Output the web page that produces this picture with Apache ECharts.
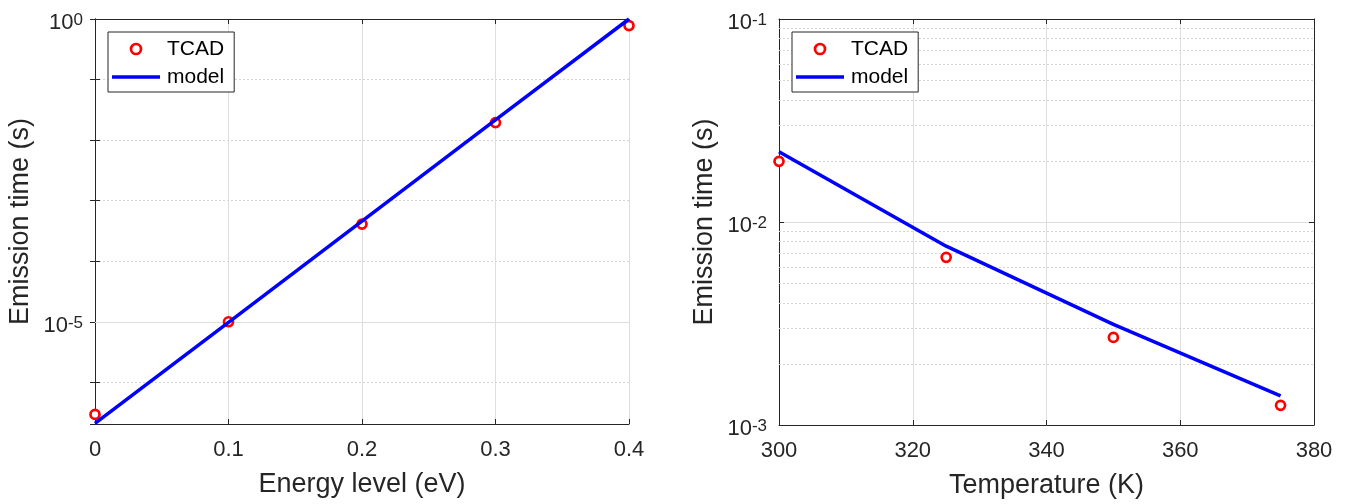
<!DOCTYPE html>
<html>
<head>
<meta charset="utf-8">
<script src="https://cdn.jsdelivr.net/npm/echarts@6/dist/echarts.min.js"></script>
<style>
  html, body { margin: 0; padding: 0; background: #fff; }
  #chart { width: 1354px; height: 504px; }
</style>
</head>
<body>
<div id="chart"></div>
<script>
// left panel: emission time vs energy level
const energyLevels = [0, 0.1, 0.2, 0.3, 0.4];
const tcadByEnergy = [2.95e-7, 1.0e-5, 4.1e-4, 1.95e-2, 0.78];
const modelByEnergy = [2.1e-7, 9.8e-6, 4.6e-4, 2.15e-2, 1.0];
const energyRange = [0, 0.4];
const energyTimeRange = [2.05e-7, 1];
const energyLabelExps = [0, -5];

// right panel: emission time vs temperature
const temperatures = [300, 325, 350, 375];
const tcadByTemp = [0.0199, 6.7e-3, 2.7e-3, 1.25e-3];
const modelByTemp = [0.0222, 7.6e-3, 3.13e-3, 1.39e-3];
const tempRange = [300, 380];
const tempTimeRange = [1e-3, 1e-1];
const tempLabelExps = [-3, -2, -1];
const tempMinorGrid = [0.002, 0.003, 0.004, 0.005, 0.006, 0.007, 0.008, 0.009,
  0.02, 0.03, 0.04, 0.05, 0.06, 0.07, 0.08, 0.09];

const font = "'Liberation Sans', Arial, Helvetica, sans-serif";
const ink = '#262626';
const gridGray = '#dedede';
const minorGray = '#d4d4d4';

const chart = echarts.init(document.getElementById('chart'));

// 10^n labels with superscript exponent
function powLabel(shown) {
  return function (v) {
    const lg = Math.log10(v);
    const e = Math.round(lg);
    if (Math.abs(lg - e) > 1e-6 || shown.indexOf(e) < 0) return '';
    return '{b|10}{s|' + e + '}';
  };
}
const powRich = {
  b: { fontSize: 22, fontFamily: font, color: ink, lineHeight: 22, padding: [5, 0, 0, 0], verticalAlign: 'bottom' },
  s: { fontSize: 17, fontFamily: font, color: ink, lineHeight: 17, verticalAlign: 'top' }
};

function xAxes(gridIndex, range, interval, name) {
  return [
    {
      type: 'value', gridIndex, min: range[0], max: range[1], interval,
      name, nameLocation: 'middle', nameGap: 47,
      nameTextStyle: { fontSize: 27, fontFamily: font, color: ink },
      axisLine: { lineStyle: { color: ink, width: 1 } },
      axisTick: { inside: true, length: 5, lineStyle: { color: ink } },
      axisLabel: { fontSize: 22, fontFamily: font, color: ink, margin: 15 },
      splitLine: { show: true, lineStyle: { color: gridGray, width: 1 } }
    },
    {
      type: 'value', gridIndex, position: 'top', min: range[0], max: range[1], interval,
      axisLine: { lineStyle: { color: ink, width: 1 } },
      axisTick: { inside: true, length: 5, lineStyle: { color: ink } },
      axisLabel: { show: false },
      splitLine: { show: false }
    }
  ];
}

function yAxes(gridIndex, range, shownExps, splitStyle) {
  return [
    {
      type: 'log', logBase: 10, gridIndex, min: range[0], max: range[1],
      name: 'Emission time (s)', nameLocation: 'middle', nameGap: 61,
      nameTextStyle: { fontSize: 27, fontFamily: font, color: ink },
      axisLine: { lineStyle: { color: ink, width: 1 } },
      axisTick: { inside: true, length: 5, lineStyle: { color: ink } },
      axisLabel: {
        formatter: powLabel(shownExps), rich: powRich, margin: 12, fontSize: 22,
        padding: [8, 0, 0, 0], showMinLabel: true, showMaxLabel: true, hideOverlap: false
      },
      splitLine: { show: true, lineStyle: splitStyle }
    },
    {
      type: 'log', logBase: 10, gridIndex, position: 'right', min: range[0], max: range[1],
      axisLine: { lineStyle: { color: ink, width: 1 } },
      axisTick: { inside: true, length: 5, lineStyle: { color: ink } },
      axisLabel: { show: false },
      splitLine: { show: false }
    }
  ];
}

// legend: ring marker and a plain thick line (zero-area end points keep the icon box 10px tall)
const lineIcon = 'path://M0,0L0.01,0Z M0,3.25L48,3.25L48,6.75L0,6.75Z M0,10L0.01,10Z';
function legendAt(left) {
  return {
    left, top: 32, orient: 'vertical',
    data: [
      { name: 'TCAD', itemStyle: { borderWidth: 2.7, borderColor: '#ff0000', color: '#fff' } },
      { name: 'model', icon: lineIcon, itemStyle: { color: '#0000ff', borderWidth: 0 } }
    ],
    itemWidth: 48, itemHeight: 10, itemGap: 0,
    padding: [3, 10, 1, 4],
    borderColor: ink, borderWidth: 1, backgroundColor: '#fff',
    textStyle: { fontSize: 21, fontFamily: font, color: '#000', lineHeight: 28, padding: [0, 0, 0, 2] },
    selectedMode: false
  };
}

const circleStyle = { color: '#fff', borderColor: '#ff0000', borderWidth: 2.7, opacity: 1 };
const lineStyle = { color: '#0000ff', width: 3.5 };

chart.setOption({
  animation: false,
  grid: [
    { left: 95, right: 725, top: 19, bottom: 80 },
    { left: 779, right: 40, top: 19, bottom: 79 }
  ],
  legend: [legendAt(108), legendAt(792)],
  xAxis: [
    ...xAxes(0, energyRange, 0.1, 'Energy level (eV)'),
    ...xAxes(1, tempRange, 20, 'Temperature (K)')
  ],
  yAxis: [
    ...yAxes(0, energyTimeRange, energyLabelExps, { color: minorGray, width: 1, type: [2, 2] }),
    ...yAxes(1, tempTimeRange, tempLabelExps, { color: gridGray, width: 1 })
  ],
  series: [
    {
      name: 'TCAD', type: 'scatter', xAxisIndex: 0, yAxisIndex: 0,
      symbol: 'circle', symbolSize: 9, itemStyle: circleStyle,
      data: energyLevels.map((x, i) => [x, tcadByEnergy[i]])
    },
    {
      name: 'model', type: 'line', xAxisIndex: 0, yAxisIndex: 0,
      symbol: 'none', showSymbol: false, lineStyle, itemStyle: { color: '#0000ff' },
      data: energyLevels.map((x, i) => [x, modelByEnergy[i]]),
      markLine: {
        silent: true, symbol: 'none', z: 1, precision: 10, label: { show: false },
        lineStyle: { color: gridGray, width: 1, type: 'solid' },
        data: [{ yAxis: 1e-5 }]
      }
    },
    {
      name: 'TCAD', type: 'scatter', xAxisIndex: 2, yAxisIndex: 2,
      symbol: 'circle', symbolSize: 9, itemStyle: circleStyle,
      data: temperatures.map((x, i) => [x, tcadByTemp[i]])
    },
    {
      name: 'model', type: 'line', xAxisIndex: 2, yAxisIndex: 2,
      symbol: 'none', showSymbol: false, lineStyle, itemStyle: { color: '#0000ff' },
      data: temperatures.map((x, i) => [x, modelByTemp[i]]),
      markLine: {
        silent: true, symbol: 'none', z: 1, precision: 10, label: { show: false },
        lineStyle: { color: minorGray, width: 1, type: [2, 2] },
        data: tempMinorGrid.map(v => ({ yAxis: v }))
      }
    }
  ]
});
</script>
</body>
</html>
